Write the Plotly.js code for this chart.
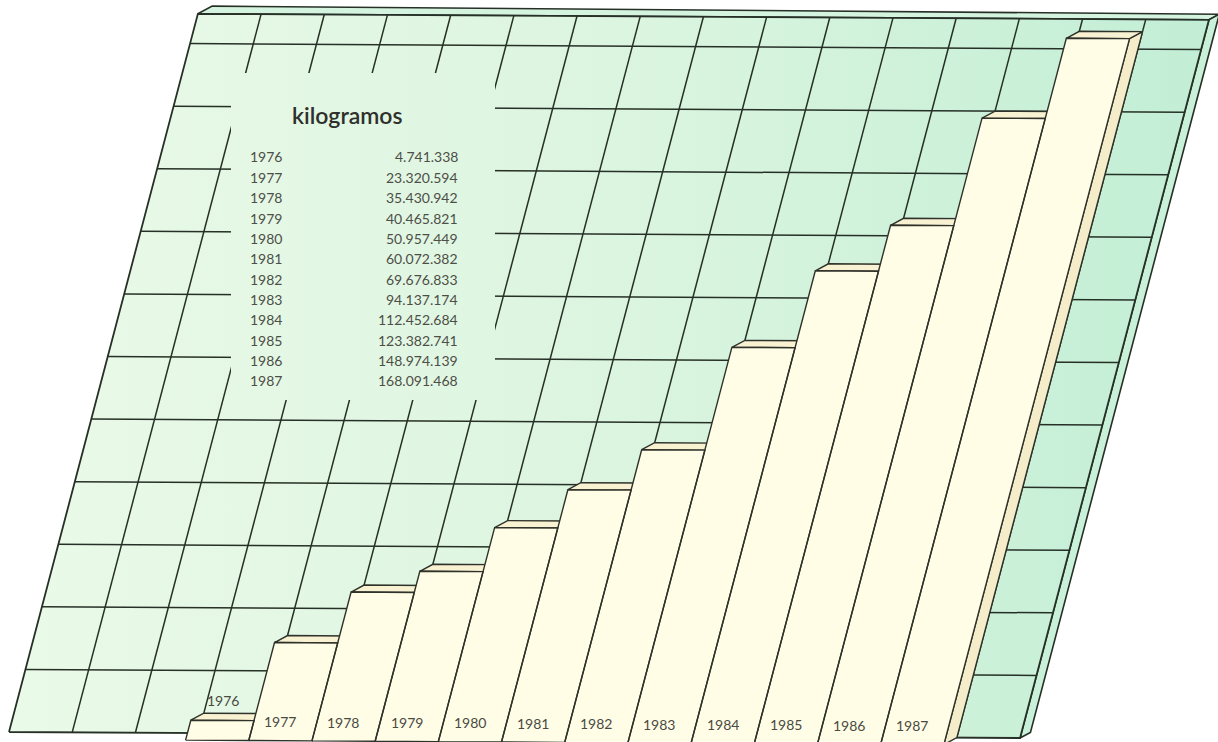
<!DOCTYPE html>
<html>
<head>
<meta charset="utf-8">
<script src="https://cdn.plot.ly/plotly-3.0.1.min.js"></script>
<style>
  html, body { margin: 0; padding: 0; background: #ffffff; }
  #chart { width: 1218px; height: 742px; }
</style>
</head>
<body>
<div id="chart"></div>
<script>
(function () {
// ---------------- DATA ----------------
const years = ['1976','1977','1978','1979','1980','1981','1982','1983','1984','1985','1986','1987'];
const kilograms = [4741338, 23320594, 35430942, 40465821, 50957449, 60072382, 69676833, 94137174, 112452684, 123382741, 148974139, 168091468];
const tableTitle = 'kilogramos';

// ---------------- GEOMETRY (oblique projection) ----------------
const PXC = 63.19;          // pixels per column
const PXM = 4.2;            // pixels per million kg
const SK = 0.263 * PXM / PXC;   // oblique slant
const TL = 0.375 / PXM;         // slight tilt of the floor
const DX = 13 / PXC, DY = 7 / PXM; // depth vector
const COLS = 16, WALL_TOP = 171, FIRST_COL = 3, GRID_STEP = 14.9;

function P(c, v, d) { return [c + SK * v - d * DX, v - TL * c - d * DY]; }
function fromPx(px, py) { return [(px - 9) / PXC, (732 - py) / PXM]; }

function polys(list) {
  const xs = [], ys = [];
  list.forEach(pts => {
    pts.concat([pts[0]]).forEach(p => { xs.push(p[0]); ys.push(p[1]); });
    xs.push(null); ys.push(null);
  });
  return {x: xs, y: ys};
}

const LINE = '#263026';
const traces = [];
const grad = {type: 'horizontal', start: 0, stop: 19,
  colorscale: [[0, '#eafae8'], [0.5, '#dcf5e0'], [1, '#c2eed5']]};

// wall top band and right side (thickness)
const topBand = polys([[P(0, WALL_TOP, 0), P(COLS, WALL_TOP, 0), P(COLS, WALL_TOP, -0.8), P(0, WALL_TOP, -1.1)]]);
traces.push({type: 'scatter', mode: 'lines', x: topBand.x, y: topBand.y, fill: 'toself',
  fillcolor: '#d4f4df', line: {color: LINE, width: 1.6}, hoverinfo: 'skip'});
const sideBand = polys([[P(COLS, 0, 0), P(COLS, 0, -0.8), P(COLS, WALL_TOP, -0.8), P(COLS, WALL_TOP, 0)]]);
traces.push({type: 'scatter', mode: 'lines', x: sideBand.x, y: sideBand.y, fill: 'toself',
  fillcolor: '#c9f1d9', line: {color: LINE, width: 1.6}, hoverinfo: 'skip'});

// wall front face
const wall = polys([[P(0, 0, 0), P(COLS, 0, 0), P(COLS, WALL_TOP, 0), P(0, WALL_TOP, 0)]]);
traces.push({type: 'scatter', mode: 'lines', x: wall.x, y: wall.y, fill: 'toself',
  fillgradient: grad, line: {color: LINE, width: 1.8}, hoverinfo: 'skip'});

// grid
const gx = [], gy = [];
for (let j = 1; j * GRID_STEP < WALL_TOP; j++) {
  const v = j * GRID_STEP;
  [P(0, v, 0), P(COLS, v, 0)].forEach(p => { gx.push(p[0]); gy.push(p[1]); });
  gx.push(null); gy.push(null);
}
for (let c = 1; c < COLS; c++) {
  [P(c, 0, 0), P(c, WALL_TOP, 0)].forEach(p => { gx.push(p[0]); gy.push(p[1]); });
  gx.push(null); gy.push(null);
}
traces.push({type: 'scatter', mode: 'lines', x: gx, y: gy,
  line: {color: LINE, width: 1.5}, hoverinfo: 'skip'});

// table panel (covers the grid)
const box = polys([[fromPx(231, 400), fromPx(495, 400), fromPx(495, 73), fromPx(231, 73)]]);
traces.push({type: 'scatter', mode: 'lines', x: box.x, y: box.y, fill: 'toself',
  fillgradient: grad, line: {width: 0, color: 'rgba(0,0,0,0)'}, hoverinfo: 'skip'});

// bars
const mill = kilograms.map(k => k / 1e6);
const sides = [], tops = [], fronts = [];
mill.forEach((v, i) => {
  const c = FIRST_COL + i;
  sides.push([P(c + 1, 0, 1), P(c + 1, 0, 0), P(c + 1, v, 0), P(c + 1, v, 1)]);
  tops.push([P(c, v, 1), P(c, v, 0), P(c + 1, v, 0), P(c + 1, v, 1)]);
  fronts.push([P(c, 0, 1), P(c + 1, 0, 1), P(c + 1, v, 1), P(c, v, 1)]);
});
[[sides, '#f5edca'], [tops, '#f8f1d2'], [fronts, '#fffde6']].forEach(([lst, col]) => {
  const p = polys(lst);
  traces.push({type: 'scatter', mode: 'lines', x: p.x, y: p.y, fill: 'toself',
    fillcolor: col, line: {color: '#2f322a', width: 1.4}, hoverinfo: 'skip'});
});

// annotations
const FONT = 'Lato, "Open Sans", sans-serif';
const annotations = [];
mill.forEach((v, i) => {
  const lv = v < 8 ? v + 4.8 : 4.5;
  const p = P(FIRST_COL + i + 0.42, lv, 1);
  annotations.push({x: p[0], y: p[1], xref: 'x', yref: 'y', text: years[i], showarrow: false,
    xanchor: 'center', yanchor: 'middle', font: {family: FONT, size: 14, color: '#4a4a44'}});
});

function fmt(n) { return String(n).replace(/\B(?=(\d{3})+(?!\d))/g, '.'); }
const W = 1218, H = 742;
annotations.push({x: 347 / W, y: 1 - 115 / H, xref: 'paper', yref: 'paper', text: tableTitle, showarrow: false,
  xanchor: 'center', yanchor: 'middle', font: {family: FONT, size: 23, color: '#2f302c', weight: 600}});
years.forEach((yr, k) => {
  const py = 157 + 20.36 * k;
  annotations.push({x: 248 / W, y: 1 - py / H, xref: 'paper', yref: 'paper', text: yr, showarrow: false,
    xanchor: 'left', yanchor: 'middle', font: {family: FONT, size: 14, color: '#4e4e48'}});
  annotations.push({x: 460 / W, y: 1 - py / H, xref: 'paper', yref: 'paper', text: fmt(kilograms[k]), showarrow: false,
    xanchor: 'right', yanchor: 'middle', font: {family: FONT, size: 14, color: '#4e4e48'}});
});

const layout = {
  width: W, height: H,
  margin: {l: 0, r: 0, t: 0, b: 0, pad: 0},
  paper_bgcolor: '#ffffff', plot_bgcolor: '#ffffff',
  showlegend: false, hovermode: false,
  xaxis: {range: [-9 / PXC, (W - 9) / PXC], visible: false, fixedrange: true},
  yaxis: {range: [(732 - H) / PXM, 732 / PXM], visible: false, fixedrange: true},
  annotations: annotations
};
Plotly.newPlot('chart', traces, layout, {displayModeBar: false, staticPlot: true});
})();
</script>
</body>
</html>
